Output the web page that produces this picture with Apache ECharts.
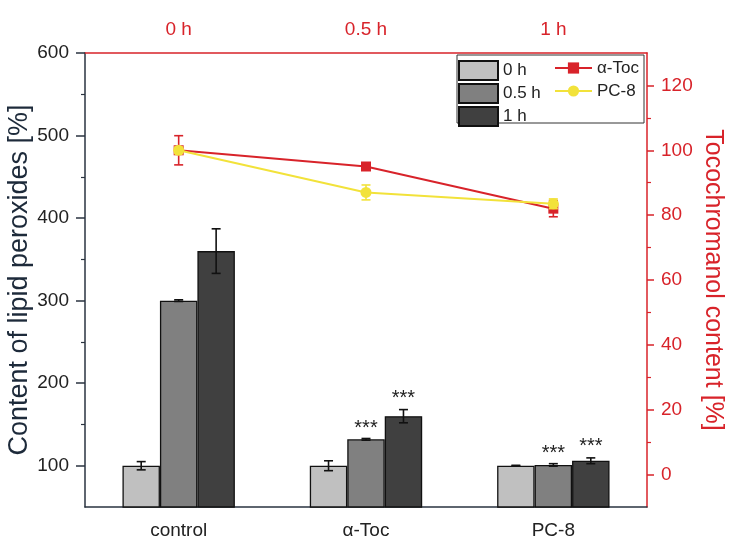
<!DOCTYPE html>
<html>
<head>
<meta charset="utf-8">
<script src="https://cdn.jsdelivr.net/npm/echarts@6/dist/echarts.min.js"></script>
<style>html,body{margin:0;padding:0;background:#fff}#c{width:734px;height:559px}</style>
</head>
<body>
<div id="c"></div>
<script>
// ---- data ----
const categories = ['control', 'α-Toc', 'PC-8'];
const timeLabels = ['0 h', '0.5 h', '1 h'];
const seriesNames = ['0 h', '0.5 h', '1 h'];
const bar0h = [100, 100, 100];
const bar0hErr = [5, 6, 0.5];
const bar05h = [300, 132, 101];
const bar05hErr = [1, 1, 1.5];
const bar1h = [360, 160, 106];
const bar1hErr = [27, 8, 3.5];
const sig05h = ['', '***', '***'];
const sig1h = ['', '***', '***'];
const tocValues = [100, 95, 82];
const tocErr = [4.5, 1, 2.5];
const pc8Values = [100, 87, 83.5];
const pc8Err = [1, 2.3, 1.5];
const leftTicks = [100, 200, 300, 400, 500, 600];
const leftMinor = [150, 250, 350, 450, 550];
const rightTicks = [0, 20, 40, 60, 80, 100, 120];
const rightMinor = [10, 30, 50, 70, 90, 110];

const FONT = '"Liberation Sans", Arial, sans-serif';
const RED = '#d8232a';
const YEL = '#f2e23a';
const DARK = '#2a3340';
const barColors = ['#c0c0c0', '#808080', '#404040'];
const starDist = [[0, 1, 1], [0, 8, 4]];

function errRender(slot, color, cap) {
  return function (params, api) {
    const i = api.value(0), v = api.value(1), e = api.value(2);
    const band = api.size([1, 0])[0];
    const c = api.coord([i, v]);
    const x = c[0] + slot * band * 0.2;
    const yt = api.coord([i, v + e])[1];
    const yb = api.coord([i, v - e])[1];
    const st = { stroke: color, lineWidth: 1.6 };
    return {
      type: 'group',
      children: [
        { type: 'line', shape: { x1: x, y1: yt, x2: x, y2: yb }, style: st },
        { type: 'line', shape: { x1: x - cap, y1: yt, x2: x + cap, y2: yt }, style: st },
        { type: 'line', shape: { x1: x - cap, y1: yb, x2: x + cap, y2: yb }, style: st }
      ]
    };
  };
}

function barData(vals, sig, idx) {
  return vals.map((v, i) => {
    if (sig && sig[i]) {
      return { value: v, label: { show: true, formatter: sig[i], position: 'top', distance: starDist[idx][i], fontSize: 20, color: '#222', fontFamily: FONT } };
    }
    return v;
  });
}

const barVals = [bar0h, bar05h, bar1h];
const barErrs = [bar0hErr, bar05hErr, bar1hErr];
const sigs = [null, sig05h, sig1h];

const series = [];
barVals.forEach((vals, k) => {
  series.push({
    name: seriesNames[k], type: 'bar', xAxisIndex: 0, yAxisIndex: 0,
    barWidth: '20%', barGap: '0%',
    itemStyle: { color: barColors[k], borderColor: '#111', borderWidth: 1.3 },
    data: barData(vals, sigs[k], k - 1),
    z: 2
  });
});
barVals.forEach((vals, k) => {
  series.push({
    type: 'custom', xAxisIndex: 0, yAxisIndex: 0, z: 3,
    renderItem: errRender(k - 1, '#111', 4.5),
    data: vals.map((v, i) => [i, v, barErrs[k][i]]),
    silent: true
  });
});
series.push({
  name: 'α-Toc', type: 'line', xAxisIndex: 1, yAxisIndex: 1,
  data: tocValues, symbol: 'rect', symbolSize: 10,
  lineStyle: { color: RED, width: 2 }, itemStyle: { color: RED }, z: 5
});
series.push({
  type: 'custom', xAxisIndex: 1, yAxisIndex: 1, z: 5,
  renderItem: errRender(0, RED, 4.5),
  data: tocValues.map((v, i) => [i, v, tocErr[i]]), silent: true
});
series.push({
  name: 'PC-8', type: 'line', xAxisIndex: 1, yAxisIndex: 1,
  data: pc8Values, symbol: 'circle', symbolSize: 11,
  lineStyle: { color: YEL, width: 2 }, itemStyle: { color: YEL }, z: 6
});
series.push({
  type: 'custom', xAxisIndex: 1, yAxisIndex: 1, z: 6,
  renderItem: errRender(0, YEL, 4.5),
  data: pc8Values.map((v, i) => [i, v, pc8Err[i]]), silent: true
});

const chart = echarts.init(document.getElementById('c'), null, { renderer: 'canvas' });
chart.setOption({
  animation: false,
  backgroundColor: '#fff',
  textStyle: { fontFamily: FONT },
  grid: { left: 85, right: 87, top: 53, bottom: 52, containLabel: false, outerBoundsMode: 'none' },
  legend: [
    {
      data: seriesNames.map(n => ({ name: n, icon: 'rect' })), orient: 'vertical', left: 458, top: 60,
      padding: 0, itemWidth: 39, itemHeight: 19, itemGap: 2,
      textStyle: { fontSize: 17, color: '#222', fontFamily: FONT, lineHeight: 17 },
      selectedMode: false
    },
    {
      data: ['α-Toc', 'PC-8'], orient: 'vertical', left: 554, top: 59.5,
      padding: 0, itemWidth: 37, itemHeight: 14, itemGap: 6,
      textStyle: { fontSize: 17, color: '#222', fontFamily: FONT, lineHeight: 17 },
      selectedMode: false
    }
  ],
  graphic: [
    { type: 'rect', shape: { x: 457, y: 55, width: 187, height: 68 }, style: { fill: 'none', stroke: '#333', lineWidth: 1 }, z: 0 }
  ],
  xAxis: [
    {
      type: 'category', data: categories, position: 'bottom', boundaryGap: true,
      axisLine: { onZero: false, lineStyle: { color: DARK, width: 1.5 } },
      axisTick: { alignWithLabel: true, length: 8, lineStyle: { color: DARK, width: 1.5 } },
      axisLabel: { fontSize: 19, color: '#222', margin: 14, fontFamily: FONT }
    },
    {
      type: 'category', data: timeLabels, position: 'top', boundaryGap: true,
      axisLine: { onZero: false, lineStyle: { color: RED, width: 1.5 } },
      axisTick: { alignWithLabel: true, length: 8, lineStyle: { color: RED, width: 1.5 } },
      axisLabel: { fontSize: 19, color: RED, margin: 14, fontFamily: FONT }
    }
  ],
  yAxis: [
    {
      type: 'value', min: 50, max: 600, interval: 50, position: 'left',
      name: 'Content of lipid peroxides [%]', nameLocation: 'middle', nameGap: 52, nameMoveOverlap: false,
      nameTextStyle: { fontSize: 27, color: '#1d2a3a', fontFamily: FONT },
      axisLine: { show: true, onZero: false, lineStyle: { color: DARK, width: 1.5 } },
      axisTick: { show: true, length: 9, customValues: leftTicks, lineStyle: { color: DARK, width: 1.5 } },
      axisLabel: { fontSize: 19, color: '#222', margin: 16, customValues: leftTicks, fontFamily: FONT },
      splitLine: { show: false }
    },
    {
      type: 'value', min: -10, max: 130, interval: 10, position: 'right',
      name: 'Tocochromanol content [%]', nameLocation: 'middle', nameGap: 53, nameRotate: -90, nameMoveOverlap: false,
      nameTextStyle: { fontSize: 25, color: RED, fontFamily: FONT },
      axisLine: { show: true, onZero: false, lineStyle: { color: RED, width: 1.5 } },
      axisTick: { show: true, length: 7, customValues: rightTicks, lineStyle: { color: RED, width: 1.5 } },
      axisLabel: { fontSize: 19, color: RED, margin: 14, customValues: rightTicks, fontFamily: FONT },
      splitLine: { show: false }
    },
    {
      type: 'value', min: 50, max: 600, interval: 50, position: 'left',
      axisLine: { show: false, onZero: false },
      axisTick: { show: true, length: 4, customValues: leftMinor, lineStyle: { color: DARK, width: 1.2 } },
      axisLabel: { show: false }, splitLine: { show: false }
    },
    {
      type: 'value', min: -10, max: 130, interval: 10, position: 'right',
      axisLine: { show: false, onZero: false },
      axisTick: { show: true, length: 4, customValues: rightMinor, lineStyle: { color: RED, width: 1.2 } },
      axisLabel: { show: false }, splitLine: { show: false }
    }
  ],
  series: series
});
</script>
</body>
</html>
